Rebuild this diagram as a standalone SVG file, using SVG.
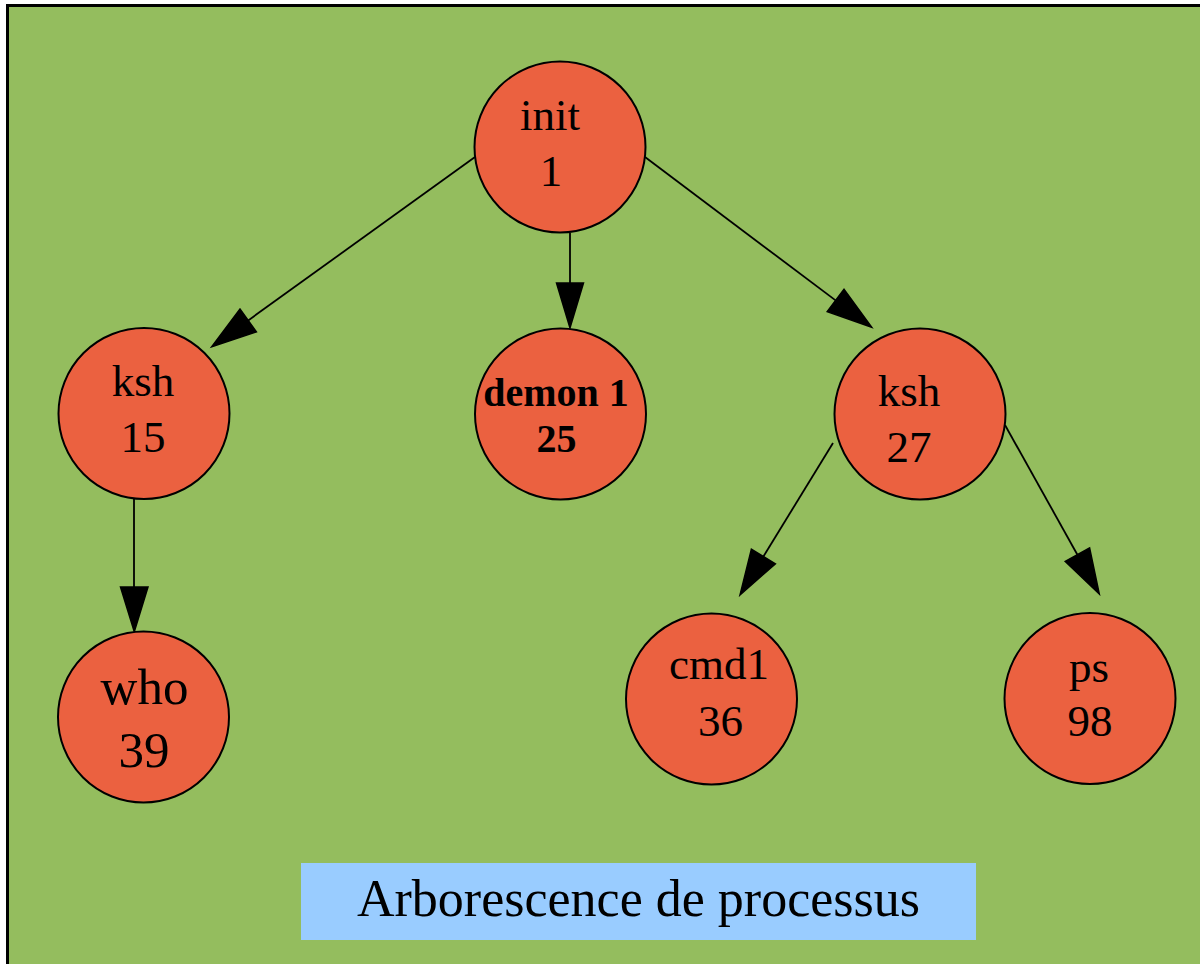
<svg xmlns="http://www.w3.org/2000/svg" width="1200" height="964" viewBox="0 0 1200 964">
<defs>
<style>
.node circle{fill:#eb6140;stroke:#000;stroke-width:2}
.node text{font-family:"Liberation Serif","Times New Roman",serif;font-size:45px;fill:#000;text-anchor:middle}
.edge line{stroke:#000;stroke-width:1.8}
.edge polygon{fill:#000;stroke:#000;stroke-width:1.5}
.title{font-family:"Liberation Serif","Times New Roman",serif;font-size:52px;fill:#000;text-anchor:middle}
</style>
</defs>
<rect x="0" y="0" width="1200" height="964" fill="#ffffff"/>
<rect x="7.5" y="5.5" width="1300" height="1100" fill="#94bd5e" stroke="#000" stroke-width="3"/>
<g id="connectors" class="edge">
<line x1="475" y1="157" x2="248.2" y2="320.4"/>
<polygon points="211.7,346.7 256.4,331.8 240,309"/>
<line x1="570" y1="233" x2="570" y2="283"/>
<polygon points="570,328 556.5,283 583.5,283"/>
<line x1="645" y1="157" x2="835.6" y2="300.4"/>
<polygon points="871.7,327.3 827.2,311.6 844,289.2"/>
<line x1="134" y1="499" x2="134" y2="587"/>
<polygon points="134.3,631.7 120.5,587 148,587"/>
<line x1="833" y1="443" x2="763.4" y2="556.5"/>
<polygon points="740,595 775.4,563.8 751.4,549.2"/>
<line x1="1005" y1="425" x2="1077.4" y2="554.7"/>
<polygon points="1099.3,594 1065.2,561.5 1089.6,547.9"/>
</g>
<g id="init" class="node">
<circle cx="560" cy="147" r="85.5"/>
<text x="550" y="130">init</text>
<text x="551" y="186">1</text>
</g>
<g id="ksh15" class="node">
<circle cx="144" cy="413.5" r="85.5"/>
<text x="143" y="396">ksh</text>
<text x="143" y="452">15</text>
</g>
<g id="demon" class="node">
<circle cx="560.5" cy="414" r="85.5"/>
<text x="556" y="406" style="font-weight:bold;font-size:40px">demon 1</text>
<text x="556.5" y="452" style="font-weight:bold;font-size:40px">25</text>
</g>
<g id="ksh27" class="node">
<circle cx="920" cy="414" r="85.5"/>
<text x="909" y="406">ksh</text>
<text x="909" y="462">27</text>
</g>
<g id="who" class="node">
<circle cx="143.5" cy="717" r="85.5"/>
<text x="144.5" y="704" style="font-size:51px">who</text>
<text x="144" y="767" style="font-size:51px">39</text>
</g>
<g id="cmd1" class="node">
<circle cx="711.5" cy="699" r="85.5"/>
<text x="719" y="679">cmd1</text>
<text x="720.5" y="736">36</text>
</g>
<g id="ps" class="node">
<circle cx="1090" cy="698.5" r="85.5"/>
<text x="1089" y="682">ps</text>
<text x="1090" y="736">98</text>
</g>
<g id="label">
<rect x="301" y="863" width="675" height="77" fill="#99ccff"/>
<text class="title" x="638.5" y="916">Arborescence de processus</text>
</g>
</svg>
